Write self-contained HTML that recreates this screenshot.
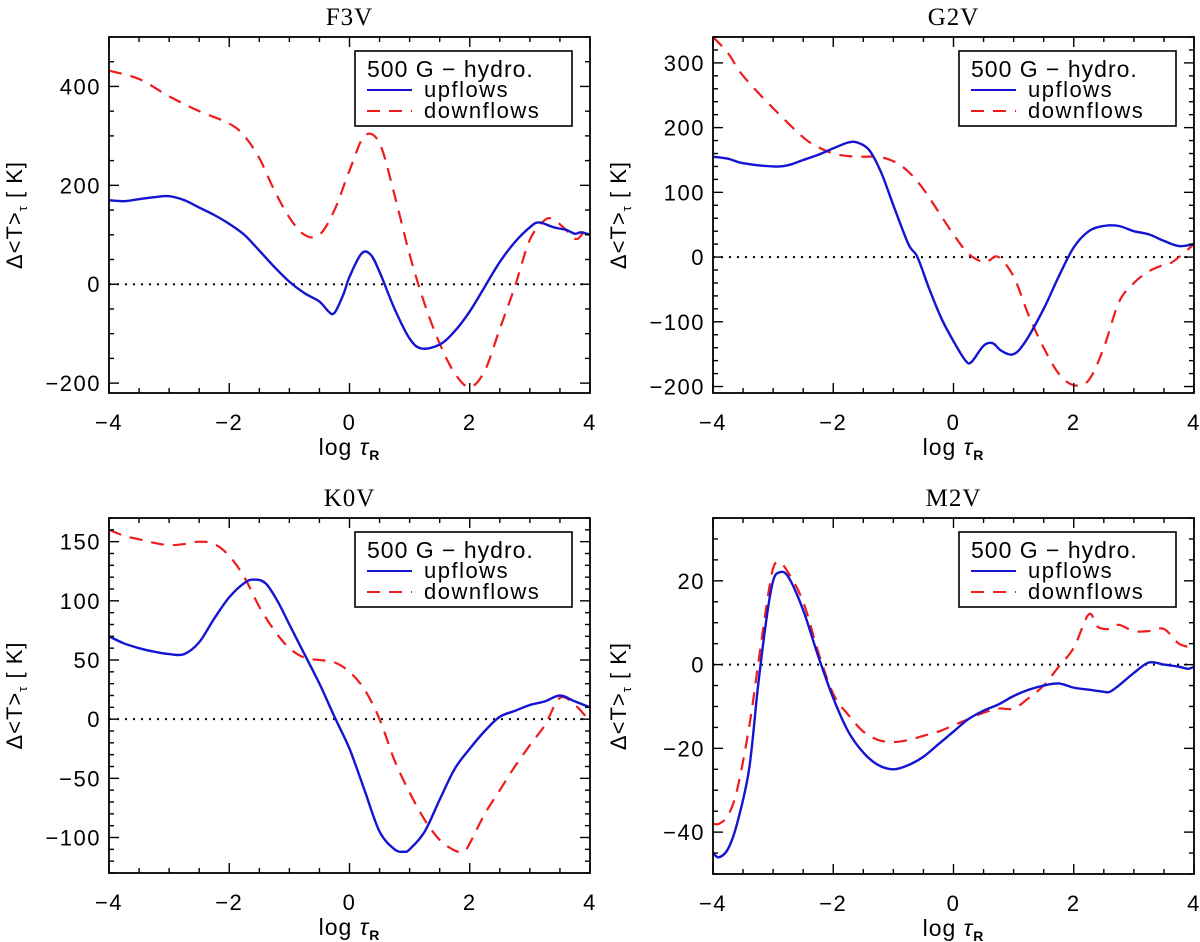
<!DOCTYPE html>
<html><head><meta charset="utf-8"><style>
html,body{margin:0;padding:0;background:#fff;}
svg{display:block;}
text{font-family:"Liberation Sans",sans-serif;fill:#000;}
</style></head><body>
<svg id="fig" width="1200" height="942" viewBox="0 0 1200 942" xmlns="http://www.w3.org/2000/svg"></svg>
<script>
// ---- data ----
const titles = ["F3V","G2V","K0V","M2V"];
const xTicks = [-4,-2,0,2,4];
const yTicksF3V = [-200,0,200,400];
const yTicksG2V = [-200,-100,0,100,200,300];
const yTicksK0V = [-100,-50,0,50,100,150];
const yTicksM2V = [-40,-20,0,20];

const upXF3V = [-4,-3.75,-3.5,-3.25,-3,-2.75,-2.5,-2.25,-2,-1.75,-1.5,-1.25,-1,-0.75,-0.5,-0.35,-0.25,-0.1,0,0.2,0.35,0.5,0.75,1,1.2,1.5,1.75,2,2.25,2.5,2.75,3,3.15,3.4,3.6,3.75,3.85,4];
const upYF3V = [170,168,172,176,178,170,155,140,122,100,68,35,5,-18,-35,-55,-58,-20,15,62,60,25,-50,-110,-130,-122,-95,-55,-5,45,85,115,125,115,110,102,105,100];
const dnXF3V = [-4,-3.5,-3,-2.5,-2,-1.75,-1.5,-1.25,-1,-0.75,-0.5,-0.25,0,0.25,0.5,0.75,1,1.25,1.5,1.75,2,2.25,2.5,2.75,3,3.25,3.4,3.6,3.7,3.8,3.9,4];
const dnYF3V = [432,415,380,350,325,300,255,190,135,100,100,150,230,300,285,180,60,-40,-120,-180,-208,-175,-90,-5,90,130,130,110,95,92,105,100];

const upXG2V = [-4,-3.75,-3.5,-3,-2.75,-2.5,-2.25,-2,-1.75,-1.6,-1.4,-1.2,-1,-0.75,-0.6,-0.4,-0.2,0,0.2,0.3,0.5,0.65,0.8,1,1.2,1.5,1.75,2,2.25,2.5,2.75,3,3.25,3.5,3.75,4];
const upYG2V = [155,152,145,140,142,150,158,168,177,177,165,130,80,20,0,-50,-95,-130,-160,-162,-137,-133,-145,-150,-130,-80,-30,15,40,48,48,40,35,25,17,20];
const dnXG2V = [-4,-3.75,-3.5,-3,-2.5,-2.25,-2,-1.75,-1.5,-1.25,-1,-0.75,-0.5,-0.25,0,0.25,0.5,0.6,0.75,1,1.25,1.5,1.75,2,2.25,2.5,2.75,3,3.25,3.5,3.6,3.75,4];
const dnYG2V = [340,315,280,230,185,170,160,156,155,155,148,132,105,70,35,5,-8,-5,0,-30,-90,-140,-180,-198,-190,-140,-70,-40,-22,-12,-10,0,20];

const upXK0V = [-4,-3.75,-3.5,-3.25,-3,-2.75,-2.5,-2.25,-2,-1.75,-1.6,-1.4,-1.2,-1,-0.75,-0.5,-0.25,0,0.25,0.5,0.75,0.9,1,1.25,1.5,1.75,2,2.25,2.5,2.75,3,3.25,3.5,3.75,4];
const upYK0V = [70,64,60,57,55,55,65,85,103,115,118,115,100,80,55,30,2,-25,-60,-95,-110,-112,-110,-95,-68,-42,-25,-10,2,7,12,15,20,15,10];
const dnXK0V = [-4,-3.75,-3.5,-3.25,-3,-2.75,-2.5,-2.25,-2,-1.75,-1.5,-1.25,-1,-0.75,-0.5,-0.25,0,0.25,0.5,0.75,1,1.25,1.5,1.75,1.9,2,2.25,2.5,2.75,3,3.25,3.5,3.75,4];
const dnYK0V = [160,155,152,149,147,148,150,148,138,120,95,75,60,52,50,48,40,25,0,-35,-62,-85,-102,-111,-112,-105,-80,-60,-40,-22,-5,18,12,-2];

const upXM2V = [-4,-3.9,-3.75,-3.6,-3.4,-3.25,-3.1,-3,-2.9,-2.75,-2.5,-2.25,-2,-1.75,-1.5,-1.25,-1,-0.75,-0.5,-0.25,0,0.25,0.5,0.75,1,1.25,1.5,1.75,2,2.25,2.5,2.6,2.75,3,3.25,3.5,3.75,3.9,4];
const upYM2V = [-45,-46,-44,-38,-25,-5,12,20,22,21,13,2,-8,-16,-21,-24,-25,-24,-22,-19,-16,-13,-11,-9.5,-7.5,-6,-5,-4.5,-5.5,-6,-6.5,-6.5,-5,-2,0.5,0,-0.5,-1,-0.5];
const dnXM2V = [-4,-3.9,-3.75,-3.6,-3.4,-3.25,-3.1,-3,-2.9,-2.75,-2.5,-2.25,-2,-1.75,-1.5,-1.25,-1,-0.75,-0.5,-0.25,0,0.25,0.5,0.75,1,1.25,1.5,1.75,2,2.25,2.4,2.6,2.75,3,3.25,3.5,3.75,4];
const dnYM2V = [-38,-38,-36,-30,-15,0,15,23,24.5,22,15,3,-7,-12,-16,-18,-18.5,-18,-17,-16,-14.5,-13,-11.5,-10.5,-10.5,-8,-5,-0.5,4,12,9,8.5,9.5,8,8,8.5,5,4];

// ---- layout ----
const NS = "http://www.w3.org/2000/svg";
const svg = document.getElementById('fig');
const panels = [
  {x0:109,x1:590,y0:37,y1:393,ymin:-220,ymax:500,minor:50,ticks:yTicksF3V,ux:upXF3V,uy:upYF3V,dx:dnXF3V,dy:dnYF3V},
  {x0:713,x1:1194,y0:37,y1:393,ymin:-210,ymax:340,minor:20,ticks:yTicksG2V,ux:upXG2V,uy:upYG2V,dx:dnXG2V,dy:dnYG2V},
  {x0:109,x1:590,y0:518,y1:873,ymin:-130,ymax:170,minor:10,ticks:yTicksK0V,ux:upXK0V,uy:upYK0V,dx:dnXK0V,dy:dnYK0V},
  {x0:713,x1:1194,y0:518,y1:874,ymin:-50,ymax:35,minor:5,ticks:yTicksM2V,ux:upXM2V,uy:upYM2V,dx:dnXM2V,dy:dnYM2V}
];
function mk(tag, attrs, parent){
  const e=document.createElementNS(NS,tag);
  for(const k in attrs) e.setAttribute(k,attrs[k]);
  (parent||svg).appendChild(e); return e;
}
function smooth(pts){
  let d='M'+pts[0][0]+','+pts[0][1];
  for(let i=0;i<pts.length-1;i++){
    const p0=pts[Math.max(0,i-1)],p1=pts[i],p2=pts[i+1],p3=pts[Math.min(pts.length-1,i+2)];
    const c1x=p1[0]+(p2[0]-p0[0])/6,c1y=p1[1]+(p2[1]-p0[1])/6;
    const c2x=p2[0]-(p3[0]-p1[0])/6,c2y=p2[1]-(p3[1]-p1[1])/6;
    d+=' C'+c1x+','+c1y+' '+c2x+','+c2y+' '+p2[0]+','+p2[1];
  }
  return d;
}
const TICKSTYLE='letter-spacing:1.5px';
panels.forEach((p,i)=>{
  const g=mk('g',{});
  
  
  const sx=v=>p.x0+(v+4)/8*(p.x1-p.x0);
  const sy=v=>p.y1-(v-p.ymin)/(p.ymax-p.ymin)*(p.y1-p.y0);
  const cx=(p.x0+p.x1)/2;
  const t=mk('text',{x:cx,y:p.y0-12,'text-anchor':'middle','font-size':25,style:'font-family:"Liberation Serif",serif;letter-spacing:1px'},g);
  t.textContent=titles[i];
  
  
  const z=mk('line',{x1:p.x0,x2:p.x1,y1:sy(0),y2:sy(0),stroke:'#000','stroke-width':2,'stroke-dasharray':'2 6'},g);
  
  
  const clip=mk('clipPath',{id:'c'+i},g);
  mk('rect',{x:p.x0,y:p.y0,width:p.x1-p.x0,height:p.y1-p.y0},clip);
  const dn=mk('path',{d:smooth(p.dx.map((v,k)=>[sx(v),sy(p.dy[k])])),fill:'none',stroke:'#ee1c1c','stroke-width':2.2,'stroke-dasharray':'13 9','clip-path':'url(#c'+i+')'},g);
  
  
  const up=mk('path',{d:smooth(p.ux.map((v,k)=>[sx(v),sy(p.uy[k])])),fill:'none',stroke:'#1414d2','stroke-width':2.4,'clip-path':'url(#c'+i+')'},g);
  
  
  const b=mk('rect',{x:p.x0,y:p.y0,width:p.x1-p.x0,height:p.y1-p.y0,fill:'none',stroke:'#000','stroke-width':1.8},g);
  
  
  for(let v=-4;v<=4.001;v+=0.5){
    const maj=Math.abs(v-Math.round(v/2)*2)<1e-6; const L=maj?10:5;
    mk('line',{x1:sx(v),x2:sx(v),y1:p.y1,y2:p.y1-L,stroke:'#000','stroke-width':1.4},g);
    mk('line',{x1:sx(v),x2:sx(v),y1:p.y0,y2:p.y0+L,stroke:'#000','stroke-width':1.4},g);
  }
  xTicks.forEach(v=>{
    const tl=mk('text',{x:sx(v),y:p.y1+37,'text-anchor':'middle','font-size':22,style:TICKSTYLE},g);
    tl.textContent=(v<0?'\u2212':'')+Math.abs(v);
    
    
  });
  const start=Math.ceil(p.ymin/p.minor)*p.minor;
  for(let v=start;v<=p.ymax+1e-6;v+=p.minor){
    const maj=p.ticks.includes(Math.round(v*1000)/1000); const L=maj?10:5;
    mk('line',{x1:p.x0,x2:p.x0+L,y1:sy(v),y2:sy(v),stroke:'#000','stroke-width':1.4},g);
    mk('line',{x1:p.x1,x2:p.x1-L,y1:sy(v),y2:sy(v),stroke:'#000','stroke-width':1.4},g);
  }
  p.ticks.forEach(v=>{
    const tl=mk('text',{x:p.x0-8,y:sy(v)+8,'text-anchor':'end','font-size':22,style:TICKSTYLE},g);
    tl.textContent=(v<0?'\u2212':'')+Math.abs(v);
    
    
  });
  const xt=mk('text',{x:cx,y:p.y1+62,'text-anchor':'middle','font-size':23,style:'letter-spacing:1px'},g);
  xt.innerHTML='log <tspan font-style="italic">τ</tspan><tspan font-size="14" dy="5" font-weight="bold">R</tspan>';
  
  
  const ly=(p.y0+p.y1)/2, lx=p.x0-87;
  const yt=mk('text',{x:lx,y:ly,'text-anchor':'middle','font-size':22,style:'letter-spacing:1px',transform:'rotate(-90 '+lx+' '+ly+')'},g);
  yt.innerHTML='Δ&lt;T&gt;<tspan font-size="13" dy="5">τ</tspan><tspan dy="-5"> [ K]</tspan>';
  
  
  const lg=mk('g',{},g);
  
  
  const lx0=p.x1-235, ly0=p.y0+14;
  mk('rect',{x:lx0,y:ly0,width:217,height:75,fill:'#fff',stroke:'#000','stroke-width':1.6},lg);
  const lt=mk('text',{x:lx0+12,y:ly0+26,'font-size':23,style:'letter-spacing:1px'},lg); lt.textContent='500 G \u2212 hydro.';
  
  
  mk('line',{x1:lx0+12,x2:lx0+57,y1:ly0+39,y2:ly0+39,stroke:'#1414d2','stroke-width':2},lg);
  const l1=mk('text',{x:lx0+69,y:ly0+46,'font-size':22,style:'letter-spacing:1.5px'},lg); l1.textContent='upflows';
  
  
  mk('line',{x1:lx0+12,x2:lx0+57,y1:ly0+60,y2:ly0+60,stroke:'#ee1c1c','stroke-width':2,'stroke-dasharray':'13 9'},lg);
  const l2=mk('text',{x:lx0+69,y:ly0+67,'font-size':22,style:'letter-spacing:1.5px'},lg); l2.textContent='downflows';
  
  
});
</script>
</body></html>
